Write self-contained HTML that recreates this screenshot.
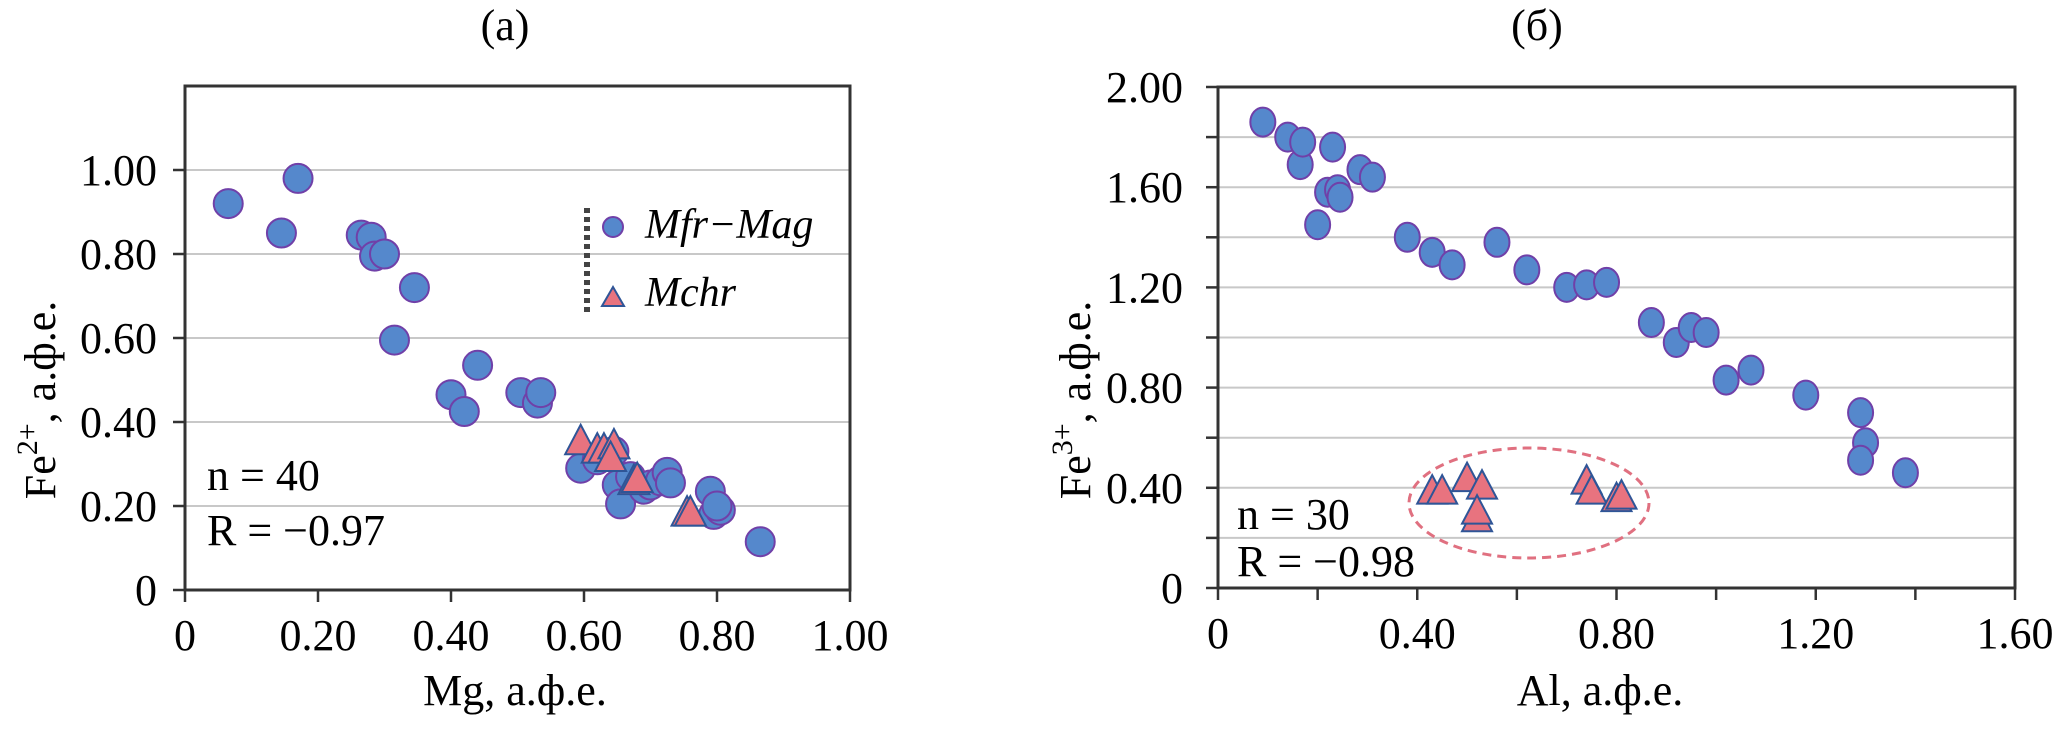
<!DOCTYPE html>
<html><head><meta charset="utf-8"><style>
html,body{margin:0;padding:0;background:#fff;}
svg{display:block;font-family:"Liberation Serif",serif;}
</style></head><body>
<svg width="2067" height="732" viewBox="0 0 2067 732" xmlns="http://www.w3.org/2000/svg">
<g id="chartA"></g>
<g id="chartB"></g>
</svg>
<script>
// Chart (a) data
const aCircX = [0.065,0.145,0.17,0.265,0.28,0.285,0.30,0.345,0.315,0.40,0.42,0.44,0.505,0.53,0.535,0.595,0.62,0.645,0.65,0.655,0.67,0.69,0.70,0.715,0.725,0.73,0.79,0.795,0.805,0.80,0.865];
const aCircY = [0.92,0.85,0.98,0.845,0.84,0.795,0.80,0.72,0.595,0.465,0.425,0.535,0.47,0.445,0.47,0.29,0.31,0.33,0.25,0.205,0.27,0.24,0.25,0.26,0.28,0.255,0.235,0.18,0.19,0.20,0.115];
const aTriX = [0.595,0.62,0.63,0.645,0.64,0.675,0.68,0.755,0.76];
const aTriY = [0.35,0.33,0.33,0.34,0.31,0.255,0.26,0.18,0.18];
const aYTicks = [0,0.2,0.4,0.6,0.8,1.0];
const aYLabels = ["0","0.20","0.40","0.60","0.80","1.00"];
const aXTicks = [0,0.2,0.4,0.6,0.8,1.0];
const aXLabels = ["0","0.20","0.40","0.60","0.80","1.00"];
// Chart (б) data
const bCircX = [0.09,0.14,0.165,0.17,0.22,0.23,0.24,0.245,0.20,0.285,0.31,0.38,0.43,0.47,0.56,0.62,0.70,0.74,0.78,0.87,0.92,0.95,0.98,1.02,1.07,1.18,1.29,1.30,1.29,1.38];
const bCircY = [1.86,1.80,1.69,1.78,1.58,1.76,1.59,1.56,1.45,1.67,1.64,1.40,1.34,1.29,1.38,1.27,1.20,1.21,1.22,1.06,0.98,1.04,1.02,0.83,0.87,0.77,0.70,0.58,0.51,0.46];
const bTriX = [0.43,0.45,0.50,0.53,0.52,0.52,0.74,0.75,0.80,0.81];
const bTriY = [0.38,0.38,0.43,0.40,0.27,0.30,0.42,0.38,0.35,0.36];
const bYGrid = [0,0.2,0.4,0.6,0.8,1.0,1.2,1.4,1.6,1.8,2.0];
const bYTicks = [0,0.4,0.8,1.2,1.6,2.0];
const bYLabels = ["0","0.40","0.80","1.20","1.60","2.00"];
const bXMinor = [0,0.2,0.4,0.6,0.8,1.0,1.2,1.4,1.6];
const bXTicks = [0,0.4,0.8,1.2,1.6];
const bXLabels = ["0","0.40","0.80","1.20","1.60"];

const NS="http://www.w3.org/2000/svg";
function mk(parent,tag,attrs,text){const e=document.createElementNS(NS,tag);for(const k in attrs)e.setAttribute(k,attrs[k]);if(text!==undefined)e.textContent=text;parent.appendChild(e);return e;}
const BLUE="#5588cc",BSTROKE="#7040a8",PINK="#e8737f",TSTROKE="#2f5597";
const FS=44;

function circle(g,cx,cy,rx,ry,name){
  const e=mk(g,'ellipse',{cx:cx,cy:cy,rx:rx,ry:ry,fill:BLUE,stroke:BSTROKE,'stroke-width':2});
  
  
}
function tri(g,cx,cy,s,name){
  const h=s*0.95;
  const e=mk(g,'polygon',{points:`${cx},${cy-h*0.62} ${cx-s/2},${cy+h*0.38} ${cx+s/2},${cy+h*0.38}`,fill:PINK,stroke:TSTROKE,'stroke-width':2});
  
  
}

// ---- Chart A ----
(function(){
  const g=document.getElementById('chartA');
  const L=185,R=850,T=86,B=590;
  const x=v=>L+(v/1.0)*(R-L);
  const y=v=>B-(v/1.2)*(B-T);
  aYTicks.forEach((v,i)=>{
    if(v>0){const l=mk(g,'line',{x1:L,x2:R,y1:y(v),y2:y(v),stroke:'#c8c8c8','stroke-width':2});
    
    }
    mk(g,'line',{x1:L-12,x2:L,y1:y(v),y2:y(v),stroke:'#333','stroke-width':2.5});
    const t=mk(g,'text',{x:L-28,y:y(v)+15,'text-anchor':'end','font-size':FS},aYLabels[i]);
    
    
  });
  aXTicks.forEach((v,i)=>{
    mk(g,'line',{x1:x(v),x2:x(v),y1:B,y2:B+12,stroke:'#333','stroke-width':2.5});
    const t=mk(g,'text',{x:x(v),y:650,'text-anchor':'middle','font-size':FS},aXLabels[i]);
    
    
  });
  const fr=mk(g,'rect',{x:L,y:T,width:R-L,height:B-T,fill:'none',stroke:'#333','stroke-width':3});
  
  
  aCircX.forEach((v,i)=>circle(g,x(v),y(aCircY[i]),14.5,14.5,'point-mfr-mag'));
  aTriX.forEach((v,i)=>tri(g,x(v),y(aTriY[i]),31,'point-mchr'));
  const lg=mk(g,'g',{});
  
  
  mk(lg,'line',{x1:587,x2:587,y1:208,y2:312,stroke:'#444','stroke-width':6,'stroke-dasharray':'5,4'});
  mk(lg,'circle',{cx:613,cy:227,r:10,fill:BLUE,stroke:BSTROKE,'stroke-width':2});
  mk(lg,'text',{x:645,y:238,'font-size':42,'font-style':'italic'},'Mfr\u2212Mag');
  mk(lg,'polygon',{points:'613,287 602,306 624,306',fill:PINK,stroke:TSTROKE,'stroke-width':2});
  mk(lg,'text',{x:645,y:306,'font-size':42,'font-style':'italic'},'Mchr');
  const s1=mk(g,'text',{x:207,y:490,'font-size':FS},'n = 40');
  
  
  const s2=mk(g,'text',{x:207,y:545,'font-size':FS},'R = \u22120.97');
  
  
  const tt=mk(g,'text',{x:505,y:40,'text-anchor':'middle','font-size':FS},'(a)');
  
  
  const xt=mk(g,'text',{x:515,y:705,'text-anchor':'middle','font-size':FS},'Mg, а.ф.е.');
  
  
  const yt=mk(g,'text',{transform:'translate(55,400) rotate(-90)','text-anchor':'middle','font-size':FS},'');
  
  
  mk(yt,'tspan',{},'Fe');
  mk(yt,'tspan',{dy:-18,'font-size':30},'2+');
  mk(yt,'tspan',{dy:18},', а.ф.е.');
})();

// ---- Chart B ----
(function(){
  const g=document.getElementById('chartB');
  const L=1218,R=2015,T=87,B=588;
  const x=v=>L+(v/1.6)*(R-L);
  const y=v=>B-(v/2.0)*(B-T);
  bYGrid.forEach(v=>{
    if(v>0){const l=mk(g,'line',{x1:L,x2:R,y1:y(v),y2:y(v),stroke:'#c8c8c8','stroke-width':2});
    
    }
    mk(g,'line',{x1:L-12,x2:L,y1:y(v),y2:y(v),stroke:'#333','stroke-width':2.5});
  });
  bYTicks.forEach((v,i)=>{
    const t=mk(g,'text',{x:1183,y:y(v)+15,'text-anchor':'end','font-size':FS},bYLabels[i]);
    
    
  });
  bXMinor.forEach(v=>mk(g,'line',{x1:x(v),x2:x(v),y1:B,y2:B+12,stroke:'#333','stroke-width':2.5}));
  bXTicks.forEach((v,i)=>{
    const t=mk(g,'text',{x:x(v),y:648,'text-anchor':'middle','font-size':FS},bXLabels[i]);
    
    
  });
  const fr=mk(g,'rect',{x:L,y:T,width:R-L,height:B-T,fill:'none',stroke:'#333','stroke-width':3});
  
  
  bCircX.forEach((v,i)=>circle(g,x(v),y(bCircY[i]),12.5,14.5,'point-mfr-mag'));
  bTriX.forEach((v,i)=>tri(g,x(v),y(bTriY[i]),30,'point-mchr'));
  const el=mk(g,'ellipse',{cx:1529,cy:503,rx:120,ry:55,fill:'none',stroke:'#e07080','stroke-width':3,'stroke-dasharray':'9,6'});
  
  
  const s1=mk(g,'text',{x:1237,y:529,'font-size':FS},'n = 30');
  
  
  const s2=mk(g,'text',{x:1237,y:576,'font-size':FS},'R = \u22120.98');
  
  
  const tt=mk(g,'text',{x:1537,y:40,'text-anchor':'middle','font-size':FS},'(б)');
  
  
  const xt=mk(g,'text',{x:1600,y:705,'text-anchor':'middle','font-size':FS},'Al, а.ф.е.');
  
  
  const yt=mk(g,'text',{transform:'translate(1090,400) rotate(-90)','text-anchor':'middle','font-size':FS},'');
  
  
  mk(yt,'tspan',{},'Fe');
  mk(yt,'tspan',{dy:-18,'font-size':30},'3+');
  mk(yt,'tspan',{dy:18},', а.ф.е.');
})();
</script>
</body></html>
